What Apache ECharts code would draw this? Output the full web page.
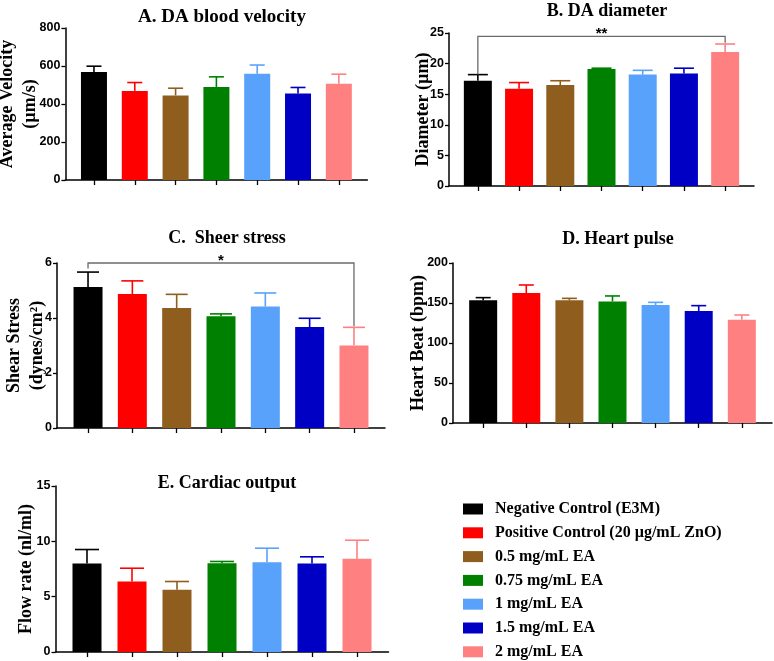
<!DOCTYPE html>
<html>
<head>
<meta charset="utf-8">
<script src="https://cdn.jsdelivr.net/npm/echarts@6/dist/echarts.min.js"></script>
<style>
  html, body { margin: 0; padding: 0; background: #fff; }
  #chart { width: 774px; height: 661px; }
</style>
</head>
<body>
<div id="chart"></div>
<script>
// groups (legend + bar order)
const groups = [
  'Negative Control (E3M)',
  'Positive Control (20 µg/mL ZnO)',
  '0.5 mg/mL EA',
  '0.75 mg/mL EA',
  '1 mg/mL EA',
  '1.5 mg/mL EA',
  '2 mg/mL EA'
]
const groupColors = ['#000000', '#ff0000', '#8f5e1f', '#008000', '#58a2fc', '#0000c4', '#ff8080']

// A. DA blood velocity
const velocity = [568, 469, 445, 489, 559, 455, 506]
const velocityErr = [31, 44, 38, 54, 46, 32, 51]
// B. DA diameter
const diameter = [17.2, 15.9, 16.5, 19.1, 18.2, 18.4, 21.9]
const diameterErr = [1.0, 1.0, 0.7, 0.15, 0.7, 0.85, 1.3]
// C. Sheer stress
const shear = [5.13, 4.87, 4.36, 4.06, 4.42, 3.67, 3.0]
const shearErr = [0.54, 0.48, 0.5, 0.09, 0.49, 0.32, 0.66]
// D. Heart pulse
const pulse = [153.3, 162.5, 153.3, 152, 147.5, 140, 129.2]
const pulseErr = [3.4, 10, 2.5, 6.8, 3.3, 6.7, 5.8]
// E. Cardiac output
const flow = [8.0, 6.37, 5.62, 8.03, 8.12, 8.0, 8.42]
const flowErr = [1.26, 1.2, 0.75, 0.15, 1.26, 0.6, 1.68]

// significance brackets: [fromIndex, toIndex, top, leftEnd, rightEnd]
const diameterBracket = [0, 6, 24.45, 18.2, 23.4]
const shearBracket = [0, 6, 6.0, 5.8, 3.7]

const SERIF = '"Liberation Serif", "Times New Roman", serif'
const SANS = '"Liberation Sans", Arial, sans-serif'

// panel layout
const panels = [
  { title: 'A. DA blood velocity', tx: 217, ty: 3, titleSize: 19, name: 'Average Velocity\n(µm/s)', nameGap: 24,
    values: velocity, errors: velocityErr, max: 800, interval: 200,
    grid: { left: 65.4, top: 28, width: 302, height: 152 }, barWidth: 26, cap: 7.5 },
  { title: 'B. DA diameter', tx: 602, ty: -3, titleSize: 18, name: 'Diameter (µm)', nameGap: 14,
    values: diameter, errors: diameterErr, max: 25, interval: 5,
    grid: { left: 449, top: 33, width: 305, height: 153 }, barWidth: 28, cap: 10,
    bracket: diameterBracket, mark: '**' },
  { title: 'C.  Sheer stress', tx: 222, ty: 224, titleSize: 18, name: 'Shear Stress\n(dynes/cm²)', nameGap: 8,
    values: shear, errors: shearErr, max: 6, interval: 2,
    grid: { left: 57, top: 263, width: 328, height: 165 }, barWidth: 29, cap: 11,
    bracket: shearBracket, mark: '*' },
  { title: 'D. Heart pulse', tx: 613, ty: 225, titleSize: 18, name: 'Heart Beat (bpm)', nameGap: 23,
    values: pulse, errors: pulseErr, max: 200, interval: 50,
    grid: { left: 453, top: 263, width: 319, height: 160 }, barWidth: 28, cap: 7.5 },
  { title: 'E. Cardiac output', tx: 222, ty: 469, titleSize: 18, name: 'Flow rate (nl/ml)', nameGap: 18,
    values: flow, errors: flowErr, max: 15, interval: 5,
    grid: { left: 55.5, top: 486, width: 333, height: 166 }, barWidth: 29, cap: 12 }
]

function errorBarItem(cap) {
  return function (params, api) {
    const x = api.value(0)
    const v = api.value(1)
    const e = api.value(2)
    const base = api.coord([x, v])
    const top = api.coord([x, v + e])
    const color = groupColors[params.dataIndex]
    const style = { stroke: color, lineWidth: 1.6 }
    return {
      type: 'group',
      children: [
        { type: 'line', shape: { x1: base[0], y1: base[1], x2: top[0], y2: top[1] }, style },
        { type: 'line', shape: { x1: top[0] - cap, y1: top[1], x2: top[0] + cap, y2: top[1] }, style }
      ]
    }
  }
}

function bracketItem(mark) {
  return function (params, api) {
    const a = api.value(0)
    const b = api.value(1)
    const top = api.value(2)
    const p1 = api.coord([a, api.value(3)])
    const p2 = api.coord([a, top])
    const p3 = api.coord([b, top])
    const p4 = api.coord([b, api.value(4)])
    return {
      type: 'group',
      children: [
        { type: 'polyline', shape: { points: [p1, p2, p3, p4] },
          style: { stroke: '#6b6b6b', lineWidth: 1.3, fill: null } },
        { type: 'text', x: (p2[0] + p3[0]) / 2, y: p2[1] + 5,
          style: { text: mark, fill: '#000', font: 'bold 15px ' + SANS, align: 'center', verticalAlign: 'bottom' } }
      ]
    }
  }
}

const chart = echarts.init(document.getElementById('chart'))

const titles = []
const grids = []
const xAxes = []
const yAxes = []
const series = []

panels.forEach((p, k) => {
  titles.push({
    text: p.title, left: p.tx, top: p.ty, textAlign: 'center',
    textStyle: { fontFamily: SERIF, fontWeight: 'bold', fontSize: p.titleSize, color: '#000' }
  })
  grids.push(Object.assign({ containLabel: false, outerBoundsMode: 'none' }, p.grid))
  xAxes.push({
    type: 'value', gridIndex: k, min: -0.7, max: 6.7,
    axisLine: { show: true, onZero: false, lineStyle: { color: '#000', width: 1.5 } },
    axisTick: { show: true, customValues: [0, 1, 2, 3, 4, 5, 6], length: 5, lineStyle: { color: '#000', width: 1.3 } },
    axisLabel: { show: false },
    splitLine: { show: false }
  })
  yAxes.push({
    type: 'value', gridIndex: k, min: 0, max: p.max, interval: p.interval,
    name: p.name, nameLocation: 'middle', nameRotate: 90, nameGap: p.nameGap, nameMoveOverlap: false,
    nameTextStyle: { fontFamily: SERIF, fontWeight: 'bold', fontSize: 18, color: '#000', lineHeight: 23 },
    axisLine: { show: true, onZero: false, lineStyle: { color: '#000', width: 1.5 } },
    axisTick: { show: true, length: 4, lineStyle: { color: '#000', width: 1.3 } },
    axisLabel: { fontFamily: SANS, fontWeight: 'bold', fontSize: 12.5, color: '#000', margin: 5 },
    splitLine: { show: false }
  })
  groups.forEach((g, i) => {
    series.push({
      type: 'bar', name: g, xAxisIndex: k, yAxisIndex: k,
      barWidth: p.barWidth, barGap: '-100%',
      itemStyle: { color: groupColors[i] },
      data: [[i, p.values[i]]]
    })
  })
  series.push({
    type: 'custom', name: 'error', xAxisIndex: k, yAxisIndex: k, z: 3,
    encode: { x: 0, y: 1 },
    renderItem: errorBarItem(p.cap),
    data: p.values.map((v, i) => [i, v, p.errors[i]])
  })
  if (p.bracket) {
    series.push({
      type: 'custom', name: 'sig', xAxisIndex: k, yAxisIndex: k, z: 4,
      encode: { x: 0, y: 2 },
      renderItem: bracketItem(p.mark),
      data: [p.bracket]
    })
  }
})

const option = {
  animation: false,
  backgroundColor: '#fff',
  title: titles,
  grid: grids,
  xAxis: xAxes,
  yAxis: yAxes,
  legend: {
    data: groups,
    orient: 'vertical',
    left: 458, top: 496, height: 200,
    icon: 'rect', itemWidth: 20, itemHeight: 11, itemGap: 7.8,
    selectedMode: false,
    textStyle: { fontFamily: SERIF, fontWeight: 'bold', fontSize: 16, color: '#000', lineHeight: 16, padding: [0, 0, 0, 7] }
  },
  series: series
}

chart.setOption(option)
</script>
</body>
</html>
